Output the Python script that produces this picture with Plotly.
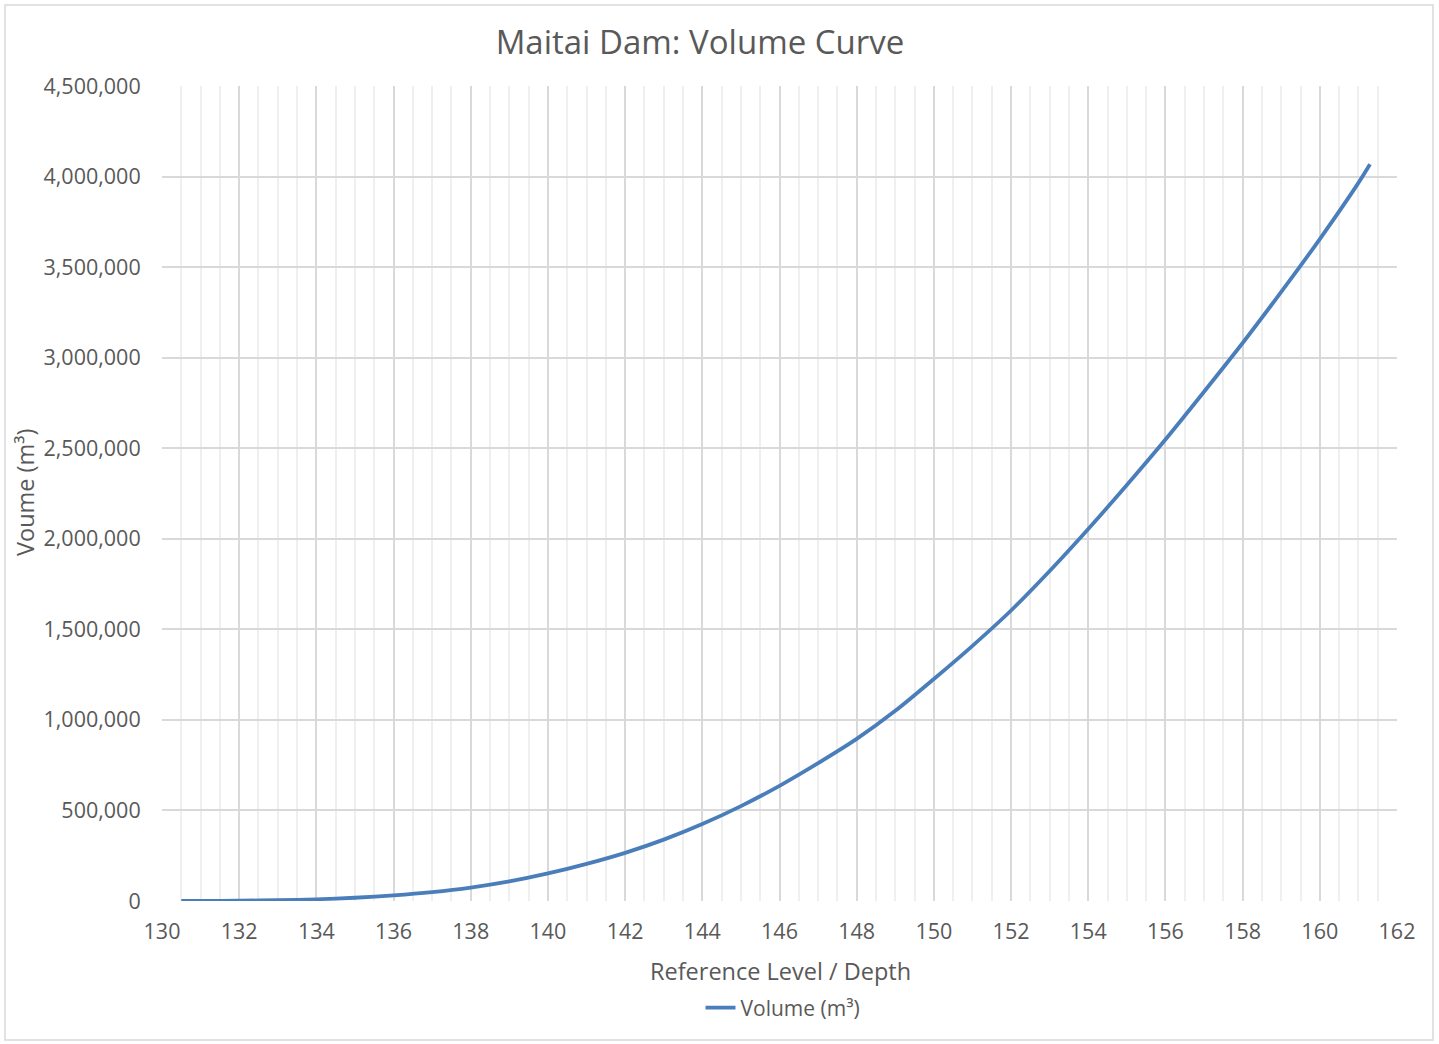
import plotly.graph_objects as go

# Data
levels = [130.5, 131, 132, 133, 134, 135, 136, 137, 138, 139, 140, 141, 142, 143, 144,
          145, 146, 147, 148, 149, 150, 151, 152, 153, 154, 155, 156, 157, 158, 159,
          160, 161, 161.3]
volumes = [0, 200, 1500, 4500, 9500, 18000, 31000, 49000, 74000, 108000, 152000,
           205000, 266000, 339000, 425000, 524000, 636000, 761000, 895000, 1050000,
           1226000, 1409000, 1604000, 1822000, 2054000, 2297000, 2548000, 2812000,
           3081000, 3363000, 3655000, 3965000, 4068000]

series_name = "Volume (m³)"
title_text = "Maitai Dam: Volume Curve"
x_title = "Reference Level / Depth"
y_title = "Voume (m³)"

W, H = 1439, 1044
L, R, T, B = 162, 1397, 86, 901
pw, ph = R - L, B - T

def px(x):
    return (x - L) / pw

def py(y):
    return (B - y) / ph

FONT = "Open Sans"
TXT = "#595959"

fig = go.Figure()
fig.add_trace(go.Scatter(
    x=levels, y=volumes, mode="lines", name=series_name,
    line=dict(color="#4A7EBB", width=3.8, shape="spline", smoothing=0.8),
))

fig.update_layout(
    width=W, height=H,
    margin=dict(l=L, r=W - R, t=T, b=H - B, autoexpand=False),
    paper_bgcolor="white", plot_bgcolor="white",
    font=dict(family=FONT, color=TXT, size=21),
    showlegend=True,
    legend=dict(orientation="h", x=px(783), xanchor="center", y=py(1008), yanchor="middle",
                font=dict(size=21, color=TXT), bgcolor="rgba(0,0,0,0)"),
    title=dict(text=title_text, x=700 / W, xanchor="center", xref="container",
               y=1 - 42 / H, yanchor="middle", yref="container",
               font=dict(size=33, color=TXT, family=FONT)),
)

fig.update_xaxes(
    range=[130, 162], dtick=2, tick0=130, showgrid=True,
    gridcolor="#d9d9d9", gridwidth=1.5,
    minor=dict(dtick=0.5, showgrid=True, gridcolor="#efefef", gridwidth=1.5),
    zeroline=False, showline=False,
    ticks="outside", ticklen=11, tickcolor="rgba(0,0,0,0)",
    tickfont=dict(size=21.5, color=TXT, family=FONT),
)
fig.update_yaxes(
    range=[0, 4500000], dtick=500000, tick0=0, tickformat=",d",
    showgrid=True, gridcolor="#d9d9d9", gridwidth=1.5,
    zeroline=False, showline=False, ticks="outside", ticklen=16, tickcolor="rgba(0,0,0,0)",
    tickfont=dict(size=21.5, color=TXT, family=FONT),
)

fig.add_annotation(text=x_title, xref="paper", yref="paper", x=px(780), y=py(971),
                   xanchor="center", yanchor="middle", showarrow=False,
                   font=dict(size=23.5, color=TXT, family=FONT))
fig.add_annotation(text=y_title, xref="paper", yref="paper", x=px(25), y=py(493),
                   xanchor="center", yanchor="middle", showarrow=False, textangle=-90,
                   font=dict(size=23.5, color=TXT, family=FONT))

# outer chart border
fig.add_shape(type="rect", xref="paper", yref="paper",
              x0=px(5), x1=px(1433), y0=py(1040), y1=py(5),
              line=dict(color="#d9d9d9", width=1.5), layer="below")

fig.write_html("out.html", config={"displayModeBar": False},
               post_script="document.body.style.margin='0px';")
